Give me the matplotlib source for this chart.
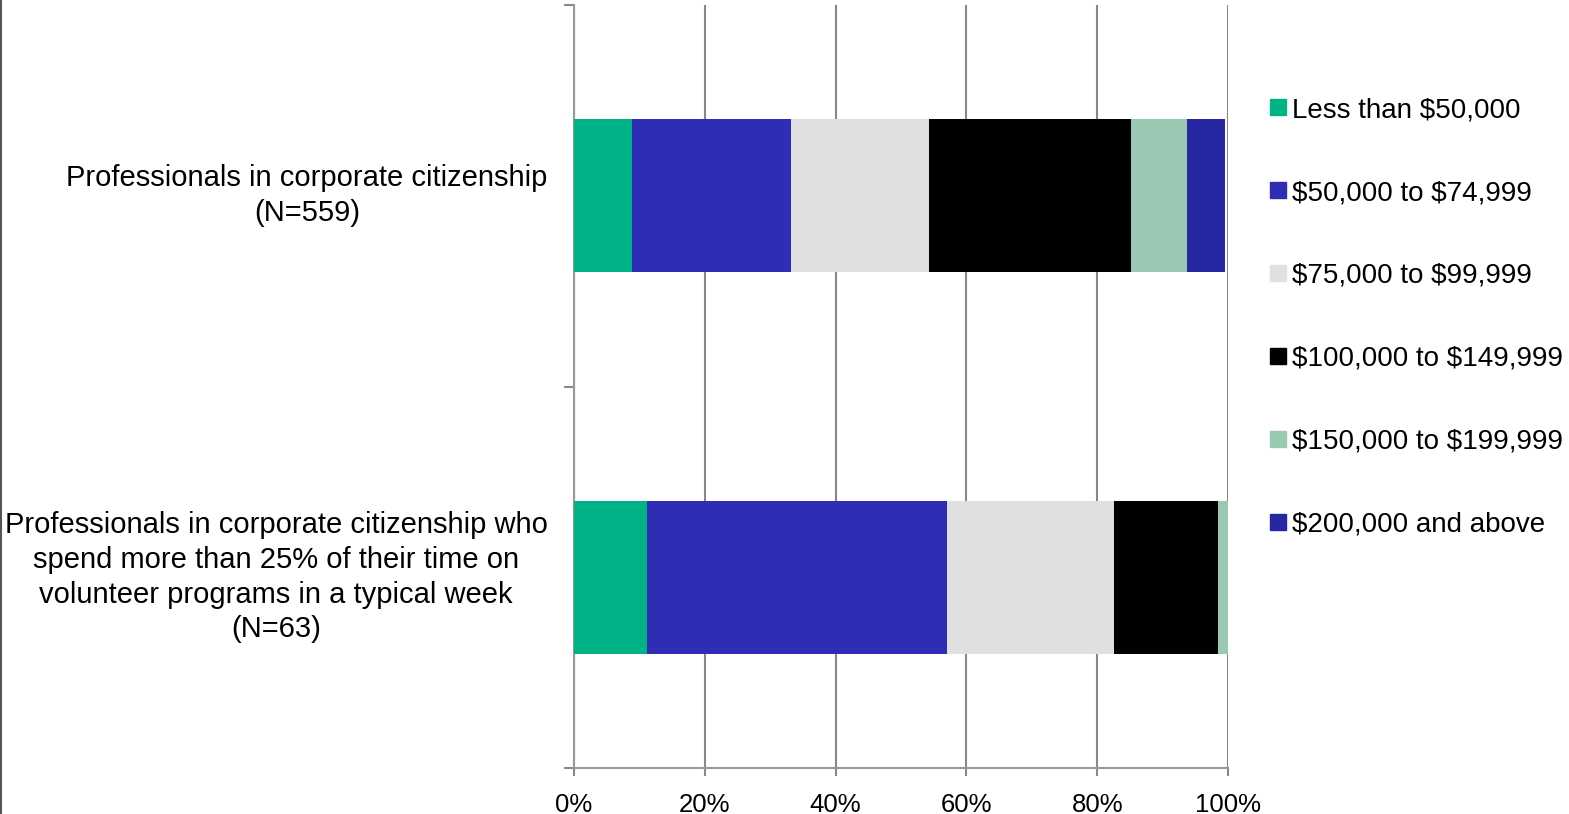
import numpy as np
import matplotlib.pyplot as plt
from matplotlib.lines import Line2D

plt.rcParams['font.family'] = ['Liberation Sans', 'DejaVu Sans']

groups = ['Professionals in corporate citizenship who\nspend more than 25% of their time on\nvolunteer programs in a typical week\n(N=63)',
          'Professionals in corporate citizenship\n(N=559)']
brackets = ['Less than \\$50,000', '\\$50,000 to \\$74,999', '\\$75,000 to \\$99,999',
            '\\$100,000 to \\$149,999', '\\$150,000 to \\$199,999', '\\$200,000 and above']
colors = ['#00b386', '#2e2db3', '#e0e0e0', '#000000', '#99c8b3', '#2727a3']
# percentages per bracket, [bottom group, top group]
less_50k = [11.1, 8.8]
k50_75 = [46.0, 24.4]
k75_100 = [25.4, 21.1]
k100_150 = [15.9, 30.9]
k150_200 = [1.6, 8.6]
k200_up = [0.0, 5.8]
values = [less_50k, k50_75, k75_100, k100_150, k150_200, k200_up]

fig = plt.figure(figsize=(15.69, 8.14), dpi=100)
ax = fig.add_axes([574 / 1569, 46 / 814, 654 / 1569, 763 / 814])

y = np.arange(len(groups))
left = np.zeros(len(groups))
for name, vals, c in zip(brackets, values, colors):
    ax.barh(y, vals, left=left, height=0.4, color=c, label=name, zorder=3)
    left += np.array(vals)

ax.set_xlim(0, 100)
ax.set_ylim(-0.5, 1.5)
ax.set_xticks(np.arange(0, 101, 20))
ax.set_xticklabels([f'{v}%' for v in range(0, 101, 20)], fontsize=18.5)
ax.set_yticks(y)
ax.set_yticklabels(groups, fontsize=21, ha='right', va='center', multialignment='center',
                   linespacing=1.31)
ax.set_yticks([-0.5, 0.5, 1.5], minor=True)
ax.tick_params(axis='y', which='major', length=0, pad=19)
ax.tick_params(axis='y', which='minor', length=7, color='#888888', width=1.5)
ax.tick_params(axis='x', length=6, color='#888888', width=1.5, pad=12, direction='out')
ax.grid(axis='x', color='#888888', linewidth=1.5, zorder=0)
for s in ['top', 'right']:
    ax.spines[s].set_visible(False)
for s in ['left', 'bottom']:
    ax.spines[s].set_color('#999999')
    ax.spines[s].set_linewidth(1.5)

handles = [Line2D([], [], marker='s', linestyle='', markersize=11, color=c) for c in colors]
fig.legend(handles, brackets, loc='upper left', bbox_to_anchor=(1259 / 1569, 1 - 86 / 814),
           frameon=False, fontsize=20, handlelength=0.6, handletextpad=0.2,
           labelspacing=2.05, borderaxespad=0)

fig.add_artist(Line2D([0.5 / 1569, 0.5 / 1569], [0, 1], transform=fig.transFigure,
                      color='#555555', linewidth=1.5))

fig.savefig('out.png', dpi=100)
